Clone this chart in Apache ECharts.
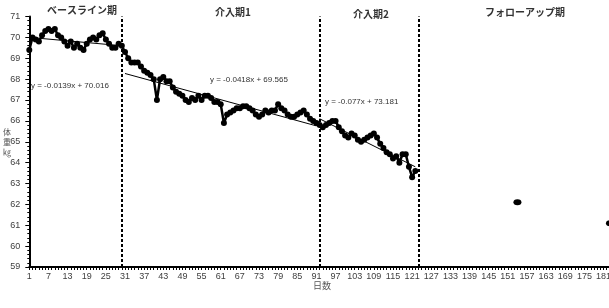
<!DOCTYPE html>
<html>
<head>
<meta charset="utf-8">
<script src="https://cdn.jsdelivr.net/npm/echarts@6/dist/echarts.min.js"></script>
<style>
html,body{margin:0;padding:0;background:#fff;overflow:hidden;width:609px;height:308px;}
#c{width:620px;height:308px;}
</style>
</head>
<body>
<div id="c"></div>
<script>
// ---- data ----
const dayCount = 186;
const days = [];
for (let i = 1; i <= dayCount; i++) days.push(String(i));

// body weight (kg), days 1..122
const weights = [
  69.4, 70.0, 69.9, 69.8, 70.1, 70.3, 70.4, 70.3, 70.4, 70.1,
  70.0, 69.8, 69.6, 69.8, 69.5, 69.7, 69.5, 69.4, 69.7, 69.9,
  70.0, 69.9, 70.1, 70.2, 69.9, 69.7, 69.5, 69.5, 69.7, 69.6,
  69.3, 69.0, 68.8, 68.8, 68.8, 68.6, 68.4, 68.3, 68.2, 68.0,
  67.0, 68.0, 68.1, 67.9, 67.9, 67.6, 67.4, 67.3, 67.2, 67.0,
  66.9, 67.1, 67.0, 67.2, 67.0, 67.2, 67.2, 67.1, 66.9, 66.9,
  66.8, 65.9, 66.3, 66.4, 66.5, 66.6, 66.6, 66.7, 66.7, 66.6,
  66.5, 66.3, 66.2, 66.3, 66.5, 66.4, 66.5, 66.5, 66.8, 66.6,
  66.5, 66.3, 66.2, 66.2, 66.3, 66.4, 66.5, 66.3, 66.1, 66.0,
  65.9, 65.8, 65.7, 65.8, 65.9, 66.0, 66.0, 65.7, 65.5, 65.3,
  65.2, 65.4, 65.3, 65.1, 65.0, 65.1, 65.2, 65.3, 65.4, 65.2,
  64.9, 64.7, 64.5, 64.4, 64.2, 64.3, 64.0, 64.4, 64.4, 63.8,
  63.3, 63.6
];
const followDays = ['154', '183'];
const followWeights = [62.1, 61.1];

// trend line end points (day, kg)
const trend1 = [['1', 70.0], ['30', 69.6]];
const trend2 = [['31', 68.27], ['91', 65.76]];
const trend3 = [['92', 66.1], ['122', 63.8]];

const phaseBoundaries = ['30', '92', '123'];
const phaseNames = ['ベースライン期', '介入期1', '介入期2', 'フォローアップ期'];
const equations = ['y = -0.0139x + 70.016', 'y = -0.0418x + 69.565', 'y = -0.077x + 73.181'];
const yTitle = '体\n重\n㎏';
const xTitle = '日数';

// ---- chart ----
const chart = echarts.init(document.getElementById('c'), null, {renderer: 'canvas', width: 620, height: 308});
const mainData = weights.map((v, i) => [days[i], v]);
const followData = followDays.map((d, i) => [d, followWeights[i]]);
const lblColor = '#404040';
const jp = '"Noto Sans CJK JP", sans-serif';

const option = {
  animation: false,
  backgroundColor: '#fff',
  grid: {left: 29.3, top: 16.5, right: 0.5, bottom: 41, containLabel: false},
  xAxis: {
    type: 'category',
    data: days,
    boundaryGap: false,
    axisLine: {lineStyle: {color: '#000', width: 2}},
    axisTick: {show: true, interval: 0, length: 3, lineStyle: {color: '#000', width: 1}},
    axisLabel: {interval: 5, color: lblColor, fontSize: 9, margin: 5, fontFamily: 'Liberation Sans, sans-serif'},
    splitLine: {show: false}
  },
  yAxis: {
    type: 'value',
    min: 59, max: 71, interval: 1,
    axisLine: {show: true, lineStyle: {color: '#000', width: 2}},
    axisTick: {show: true, length: 4, lineStyle: {color: '#000'}},
    minorTick: {show: true, splitNumber: 5, length: 2, lineStyle: {color: '#000'}},
    axisLabel: {color: lblColor, fontSize: 9, margin: 9, fontFamily: 'Liberation Sans, sans-serif'},
    splitLine: {show: false}
  },
  series: [
    {
      type: 'line', data: trend1, symbol: 'none', silent: true,
      lineStyle: {color: '#000', width: 1}, z: 3
    },
    {
      type: 'line', data: trend2, symbol: 'none', silent: true,
      lineStyle: {color: '#000', width: 1}, z: 3
    },
    {
      type: 'line', data: trend3, symbol: 'none', silent: true,
      lineStyle: {color: '#000', width: 1}, z: 3
    },
    {
      type: 'line',
      data: mainData,
      symbol: 'circle', symbolSize: 6,
      showAllSymbol: true,
      itemStyle: {color: '#000'},
      lineStyle: {color: '#000', width: 2.5},
      z: 4,
      markLine: {
        silent: true, symbol: 'none', label: {show: false},
        lineStyle: {color: '#000', type: [3, 2], width: 2},
        data: phaseBoundaries.map(d => ({xAxis: d}))
      }
    },
    {
      type: 'scatter',
      data: followData,
      symbol: 'circle', symbolSize: [8, 6],
      itemStyle: {color: '#000', opacity: 1},
      z: 4
    }
  ],
  graphic: [
    {type: 'text', x: 82, y: 10, style: {text: phaseNames[0], font: 'bold 10px ' + jp, fill: '#333', align: 'center', verticalAlign: 'middle'}},
    {type: 'text', x: 233, y: 12, style: {text: phaseNames[1], font: 'bold 10px ' + jp, fill: '#333', align: 'center', verticalAlign: 'middle'}},
    {type: 'text', x: 371, y: 14, style: {text: phaseNames[2], font: 'bold 10px ' + jp, fill: '#333', align: 'center', verticalAlign: 'middle'}},
    {type: 'text', x: 525, y: 12, style: {text: phaseNames[3], font: 'bold 10px ' + jp, fill: '#333', align: 'center', verticalAlign: 'middle'}},
    {type: 'text', x: 31, y: 86, style: {text: equations[0], font: '8px Liberation Sans, sans-serif', fill: '#333', align: 'left', verticalAlign: 'middle'}},
    {type: 'text', x: 210, y: 80, style: {text: equations[1], font: '8px Liberation Sans, sans-serif', fill: '#333', align: 'left', verticalAlign: 'middle'}},
    {type: 'text', x: 325, y: 102, style: {text: equations[2], font: '8px Liberation Sans, sans-serif', fill: '#333', align: 'left', verticalAlign: 'middle'}},
    {type: 'text', x: 322, y: 286, style: {text: xTitle, font: '9px ' + jp, fill: '#555', align: 'center', verticalAlign: 'middle'}},
    {type: 'text', x: 7, y: 142, style: {text: yTitle, font: '8px ' + jp, fill: '#555', align: 'center', verticalAlign: 'middle', lineHeight: 10}}
  ]
};
chart.setOption(option);
</script>
</body>
</html>
